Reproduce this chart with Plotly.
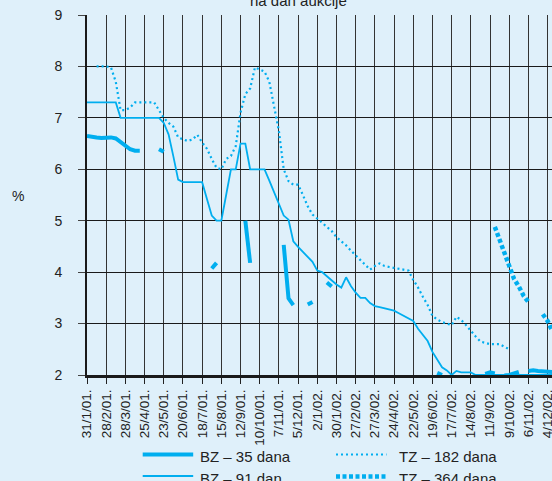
import pandas as pd
import plotly.graph_objects as go

# ---- data (weekly auctions starting 31/1/2001) ----
start_date = "2001-01-31"
n_weeks = 98

bz35 = [6.65, 6.63, 6.62, 6.61, 6.61, 6.62, 6.60, 6.53, 6.44, 6.39,
        6.36, 6.36, None, None, None, 6.39, 6.34, None, None, None,
        None, None, None, None, None, None, 4.07, 4.18, None, None,
        None, None, None, 5.00, 4.18, None, None, None, None, None,
        None, 4.53, 3.49, 3.36, None, None, 3.37, 3.42, None, None,
        3.80, 3.72, None, None, None, None, None, None, None, None,
        None, None, None, None, None, None, None, None, None, None,
        None, None, None, 2.04, 2.00, None, None, None, None, None,
        None, None, None, 2.02, 2.05, 2.03, None, 1.99, 2.00, 2.03,
        2.06, None, 2.08, 2.09, 2.08, 2.07, 2.07, 2.06]

bz91 = [7.3, 7.3, 7.3, 7.3, 7.3, 7.3, 7.3, 7.0, 7.0, 7.0,
        7.0, 7.0, 7.0, 7.0, 7.0, 7.0, 6.9, 6.68, 6.25, 5.8,
        5.75, 5.75, 5.75, 5.75, 5.75, 5.42, 5.1, 5.0, 5.0, 5.5,
        6.0, 6.0, 6.5, 6.5, 6.0, 6.0, 6.0, 6.0, 5.78, 5.55,
        5.31, 5.1, 5.02, 4.6, 4.49, 4.39, 4.29, 4.2, 4.03, 4.0,
        3.92, 3.83, 3.76, 3.7, 3.9, 3.73, 3.6, 3.5, 3.5, 3.4,
        3.34, 3.32, 3.3, 3.28, 3.25, 3.2, 3.15, 3.1, 3.05, 2.9,
        2.78, 2.66, 2.45, 2.3, 2.15, 2.09, 2.0, 2.08, 2.05, 2.05,
        2.05, 2.0, 2.0, 2.0, 2.0, 2.0, 2.0, 2.0, 2.0, 2.0,
        2.0, 2.0, 2.0, 2.0, 2.0, 2.0, 2.0, 2.0]

tz182 = [None, None, 8.0, 8.0, 8.0, 7.98, 7.7, 7.15, 7.15, 7.2,
         7.3, 7.3, 7.3, 7.3, 7.3, 7.15, 7.0, 6.9, 6.83, 6.62,
         6.58, 6.55, 6.58, 6.67, 6.52, 6.4, 6.2, 6.03, 6.0, 6.2,
         6.26, 6.45, 7.1, 7.46, 7.57, 7.98, 7.94, 7.9, 7.7, 7.18,
         6.74, 6.0, 5.77, 5.7, 5.7, 5.5, 5.28, 5.12, 5.03, 4.96,
         4.88, 4.8, 4.68, 4.6, 4.52, 4.42, 4.32, 4.22, 4.14, 4.05,
         4.12, 4.17, 4.12, 4.1, 4.08, 4.07, 4.05, 4.03, 3.85, 3.7,
         3.52, 3.36, 3.15, 3.08, 3.03, 3.0, 2.97, 3.13, 3.07, 2.97,
         2.85, 2.75, 2.65, 2.62, 2.6, 2.6, 2.6, 2.55, 2.5, None,
         None, None, None, None, None, None, None, None]

tz364 = [None] * 85 + [4.88, 4.62, 4.42, 4.15, 3.87, 3.72, 3.54, 3.42,
                       None, None, 3.18, 3.05, 2.85]

tick_dates = ["2001-01-31", "2001-02-28", "2001-03-28", "2001-04-25", "2001-05-23",
              "2001-06-20", "2001-07-18", "2001-08-15", "2001-09-12", "2001-10-10",
              "2001-11-07", "2001-12-05", "2002-01-02", "2002-01-30", "2002-02-27",
              "2002-03-27", "2002-04-24", "2002-05-22", "2002-06-19", "2002-07-17",
              "2002-08-14", "2002-09-11", "2002-10-09", "2002-11-06", "2002-12-04"]
tick_labels = ["31/1/01.", "28/2/01.", "28/3/01.", "25/4/01.", "23/5/01.",
               "20/6/01.", "18/7/01.", "15/8/01.", "12/9/01.", "10/10/01.",
               "7/11/01.", "5/12/01.", "2/1/02.", "30/1/02.", "27/2/02.",
               "27/3/02.", "24/4/02.", "22/5/02.", "19/6/02.", "17/7/02.",
               "14/8/02.", "11/9/02.", "9/10/02.", "6/11/02.", "4/12/02."]

series_names = ["BZ – 35 dana", "BZ – 91 dan", "TZ – 182 dana", "TZ – 364 dana"]

dates = pd.date_range(start_date, periods=n_weeks, freq="7D")

# ---- style ----
BLUE = "#00AEEF"
BG = "#DFF0FA"
TXT = "#222222"
FONT = "Liberation Sans, Arial, sans-serif"

styles = [dict(width=4, dash="solid"),
          dict(width=1.8, dash="solid"),
          dict(width=2.2, dash="2px,3px"),
          dict(width=4.5, dash="4px,2.5px")]

fig = go.Figure()
for name, vals, st in zip(series_names, [bz35, bz91, tz182, tz364], styles):
    fig.add_trace(go.Scatter(x=dates, y=vals, mode="lines", name=name,
                             connectgaps=False, showlegend=False,
                             line=dict(color=BLUE, width=st["width"], dash=st["dash"])))

L, R, T, B = 87, 0, 15, 106
W, H = 552, 481
PW, PH = W - L - R, H - T - B


def px(x):
    return (x - L) / PW


def py(y):
    return (H - B - y) / PH


shapes = []
annots = []
# manual legend
leg = [(142.7, 454.5, 0, 198.3, 456.0),
       (142.7, 476.0, 1, 198.3, 478.5),
       (336.0, 454.5, 2, 396.7, 456.0),
       (336.0, 476.5, 3, 396.7, 478.5)]
for x0, y0, i, tx, ty in leg:
    shapes.append(dict(type="line", xref="paper", yref="paper",
                       x0=px(x0), x1=px(x0 + 50.5), y0=py(y0), y1=py(y0),
                       line=dict(color=BLUE, width=styles[i]["width"], dash=styles[i]["dash"])))
    annots.append(dict(text=series_names[i], xref="paper", yref="paper",
                       x=px(tx), y=py(ty), xanchor="left", yanchor="middle",
                       showarrow=False, font=dict(size=15, color=TXT, family=FONT)))

annots.append(dict(text="na dan aukcije", xref="paper", yref="paper",
                   x=px(298), y=py(0.8), xanchor="center", yanchor="middle",
                   showarrow=False, font=dict(size=15, color=TXT, family=FONT)))
annots.append(dict(text="%", xref="paper", yref="paper",
                   x=px(18), y=py(196), xanchor="center", yanchor="middle",
                   showarrow=False, font=dict(size=14, color=TXT, family=FONT)))

fig.update_layout(
    width=W, height=H,
    margin=dict(l=L, r=R, t=T, b=B, autoexpand=False),
    paper_bgcolor=BG, plot_bgcolor=BG,
    font=dict(family=FONT, color=TXT),
    shapes=shapes, annotations=annots,
    showlegend=False,
)
fig.update_xaxes(
    type="date", range=["2001-01-31", "2002-12-10 10:00"],
    tickmode="array", tickvals=tick_dates, ticktext=tick_labels,
    tickangle=-90, tickfont=dict(size=13.5, color=TXT),
    ticks="outside", ticklen=6, tickcolor="#222", tickwidth=1,
    ticklabeloverflow="allow",
    showgrid=True, gridcolor="#333333", gridwidth=1,
    showline=True, linecolor="#1a1a1a", linewidth=3,
    zeroline=False, layer="below traces", automargin=False,
)
fig.update_yaxes(
    range=[2, 9], dtick=1, tick0=2,
    tickfont=dict(size=14, color=TXT),
    ticks="outside", ticklen=7, tickcolor="#444", tickwidth=1,
    ticklabelstandoff=13, ticklabeloverflow="allow",
    showgrid=True, gridcolor="#1a1a1a", gridwidth=1.2,
    showline=True, linecolor="#1a1a1a", linewidth=2,
    zeroline=False, layer="below traces", automargin=False,
)

fig.write_html(
    "out.html",
    config={"displayModeBar": False},
    post_script="document.body.style.margin='0';document.body.style.overflow='hidden';"
                "document.body.style.background='" + BG + "';",
)
